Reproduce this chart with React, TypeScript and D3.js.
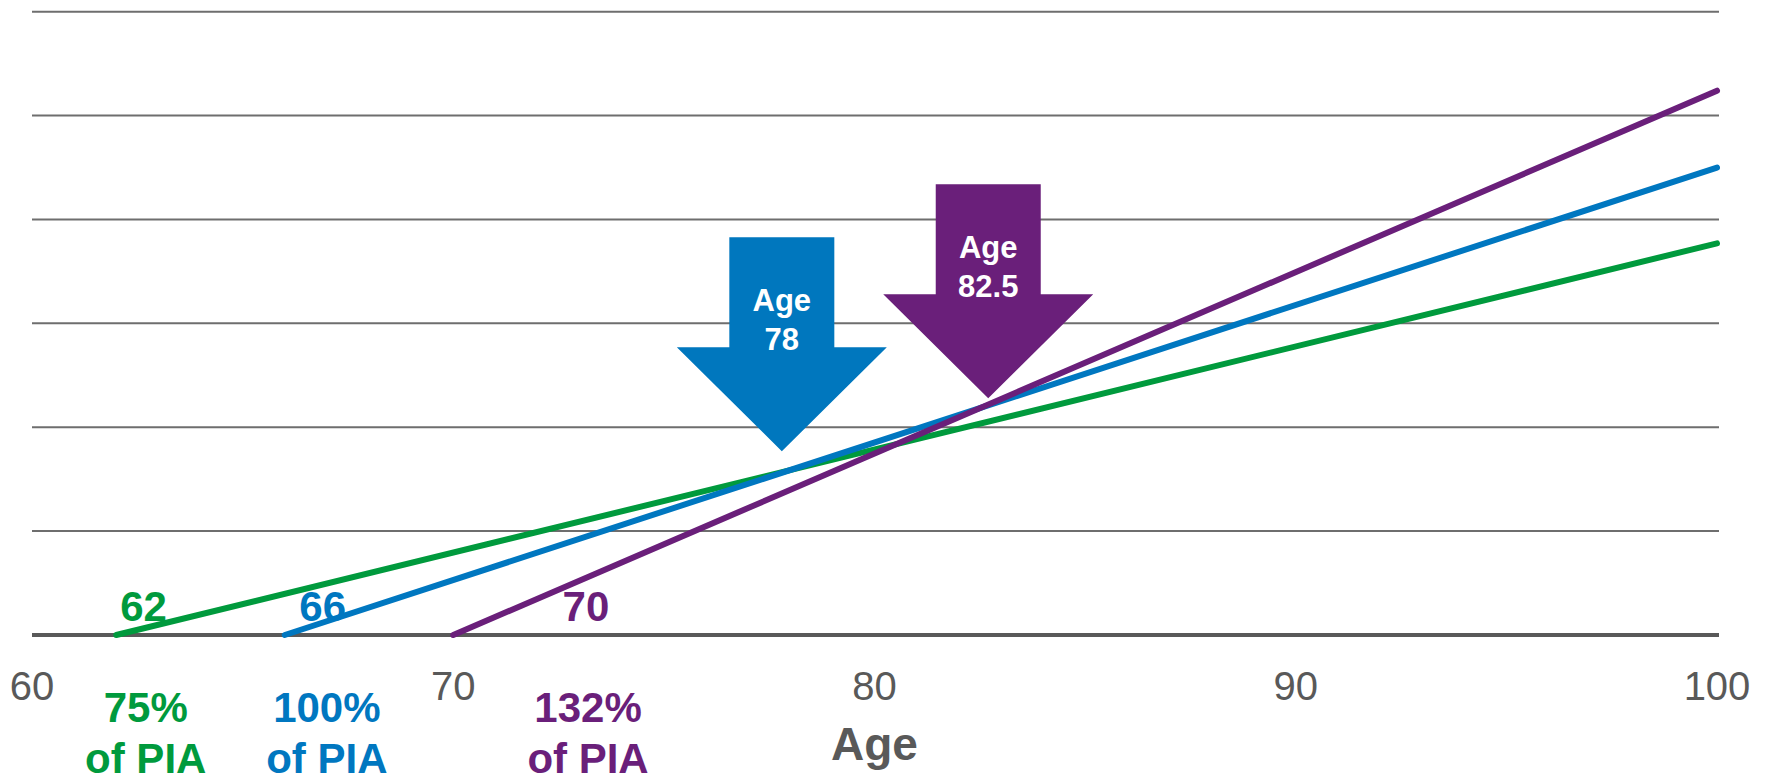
import React from 'react';
import * as d3 from 'd3';

// Claiming ages and the cumulative benefit level (in gridline units) at age 100
const seriesNames = ['75% of PIA', '100% of PIA', '132% of PIA'];
const startAges = [62, 66, 70];
const endAge = 100;
const endLevels = [3.77, 4.5, 5.24];
const seriesColors = ['#009A3D', '#0077C0', '#6A1F7A'];

// where the claiming-age and percentage labels sit
const startLabelAges = [62.65, 66.9, 73.15];
const pctLabelAges = [62.7, 67.0, 73.2];
const pctLines = [['75%', 'of PIA'], ['100%', 'of PIA'], ['132%', 'of PIA']];

// break-even arrows
const arrowLabels = [['Age', '78'], ['Age', '82.5']];
const arrowAges = [77.8, 82.7];
const arrowLevels = [1.77, 2.28];
const arrowColors = ['#0077BE', '#6A1F7A'];

const xTicks = [60, 70, 80, 90, 100];
const gridLevels = [0, 1, 2, 3, 4, 5, 6];

const W = 1769;
const H = 777;
const FONT = '"Liberation Sans", Arial, sans-serif';

const App: React.FC = () => {
  const x = d3.scaleLinear().domain([60, 100]).range([32, 1717]);
  const y = d3.scaleLinear().domain([0, 6]).range([635, 11.7]);

  const line = d3.line<[number, number]>()
    .x(d => x(d[0]))
    .y(d => y(d[1]));

  const arrowPath = (tx: number, ty: number) => {
    const sw = 52.5, hw = 105, hh = 104, total = 214;
    return `M${tx - sw},${ty - total}L${tx + sw},${ty - total}L${tx + sw},${ty - hh}` +
      `L${tx + hw},${ty - hh}L${tx},${ty}L${tx - hw},${ty - hh}L${tx - sw},${ty - hh}Z`;
  };

  return (
    <div style={{ position: 'absolute', left: 0, top: 0 }}>
      <svg width={W} height={H} style={{ display: 'block', background: '#fff' }} fontFamily={FONT}>
        {/* gridlines */}
        {gridLevels.filter(g => g > 0).map(g => (
          <line key={g} x1={32} x2={1719} y1={y(g)} y2={y(g)} stroke="#6e6e6e" strokeWidth={2} />
        ))}
        <line x1={32} x2={1719} y1={y(0)} y2={y(0)} stroke="#595959" strokeWidth={4} />

        {/* x tick labels */}
        {xTicks.map(t => (
          <text key={t} x={x(t)} y={700} textAnchor="middle" fontSize={40} fill="#595959">{t}</text>
        ))}
        <text x={x(80)} y={760} textAnchor="middle" fontSize={46} fontWeight="bold" fill="#595959">Age</text>

        {/* benefit lines */}
        {seriesNames.map((name, i) => (
          <path key={name} d={line([[startAges[i], 0], [endAge, endLevels[i]]]) || ''}
            fill="none" stroke={seriesColors[i]} strokeWidth={6} strokeLinecap="round" />
        ))}

        {/* claiming age labels */}
        {startAges.map((a, i) => (
          <text key={a} x={x(startLabelAges[i])} y={621} textAnchor="middle" fontSize={42}
            fontWeight="bold" fill={seriesColors[i]}>{a}</text>
        ))}

        {/* percent of PIA labels */}
        {pctLines.map((lines, i) => (
          <text key={i} x={x(pctLabelAges[i])} textAnchor="middle" fontSize={42}
            fontWeight="bold" fill={seriesColors[i]}>
            <tspan x={x(pctLabelAges[i])} y={722}>{lines[0]}</tspan>
            <tspan x={x(pctLabelAges[i])} y={773}>{lines[1]}</tspan>
          </text>
        ))}

        {/* break-even arrows */}
        {arrowLabels.map((lbl, i) => {
          const tx = x(arrowAges[i]);
          const ty = y(arrowLevels[i]);
          return (
            <g key={i}>
              <path d={arrowPath(tx, ty)} fill={arrowColors[i]} />
              <text x={tx} textAnchor="middle" fontSize={31} fontWeight="bold" fill="#fff">
                <tspan x={tx} y={ty - 140}>{lbl[0]}</tspan>
                <tspan x={tx} y={ty - 101.5}>{lbl[1]}</tspan>
              </text>
            </g>
          );
        })}
      </svg>
    </div>
  );
};

export default App;
